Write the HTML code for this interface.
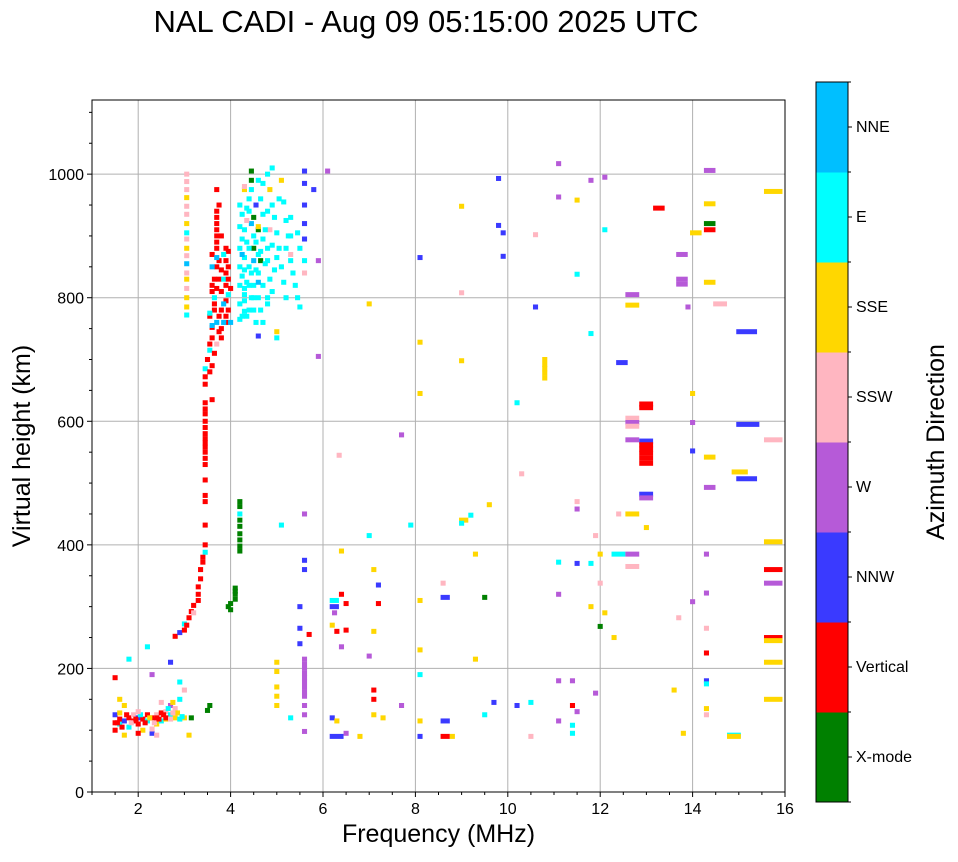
<!DOCTYPE html>
<html><head><meta charset="utf-8"><style>
body{margin:0;background:#fff;font-family:"Liberation Sans","DejaVu Sans",sans-serif}
svg text{font-family:"Liberation Sans","DejaVu Sans",sans-serif}
</style></head><body>
<svg id="c" width="958" height="857" xmlns="http://www.w3.org/2000/svg">
<rect width="958" height="857" fill="#fff"/>
<text x="426" y="32" font-size="31" text-anchor="middle">NAL CADI - Aug 09 05:15:00 2025 UTC</text>
<g id="grid"></g><g id="marks"></g><g id="axes"></g><g id="cbar"></g>
</svg>
<script>
const dirNames=["X-mode","Vertical","NNW","W","SSW","SSE","E","NNE"];
const dirColors=["#008000","#ff0000","#3a3aff","#b65ad8","#ffb6c1","#ffd700","#00ffff","#00bfff"];
const xTicks=[2,4,6,8,10,12,14,16];
const yTicks=[0,200,400,600,800,1000];
// [freq MHz, height km, direction index, optional span MHz]
const lowCluster=[[1.5,125,2],[1.5,100,1],[1.5,185,1],[1.6,110,6],[1.6,118,1],[1.7,115,2],[1.7,92,5],[1.8,120,1],[1.8,105,6],[1.9,115,1],[1.9,125,4],[2.0,110,1],[2.0,120,2],[2.1,118,1],[2.1,100,5],[2.2,115,6],[2.2,125,1],[2.3,120,1],[2.3,95,2],[2.4,125,4],[2.4,110,5],[2.5,128,1],[2.5,115,6],[2.6,130,4],[2.6,118,5],[2.7,140,3],[2.7,125,6],[2.75,145,5],[2.8,135,4],[2.8,120,5],[2.9,150,6],[3.0,120,5],[3.15,120,0],[2.6,120,1],[1.8,215,6],[2.2,235,6],[2.7,210,2],[2.9,178,6],[3.0,165,4],[2.5,145,4],[2.3,102,4],[2.0,95,1],[1.7,140,5],[1.55,112,1],[1.65,105,1],[2.15,112,1],[2.35,112,4],[2.45,118,1],[2.85,128,5],[3.1,92,5],[2.4,92,4],[2.9,118,6],[1.6,150,5],[2.3,190,3],[1.75,125,1],[1.85,112,4],[1.95,118,1],[2.05,125,6],[2.25,120,5],[2.55,125,1],[2.65,135,6],[2.75,128,4],[2.95,122,6],[1.5,112,1],[1.6,128,5],[2.0,130,4],[2.4,120,1],[2.7,118,4]];
const mainTrace=[[2.8,252,1],[2.9,258,2],[3.0,262,1],[3.0,272,6],[3.1,282,1],[3.15,292,1],[3.2,302,1],[3.3,320,1],[3.3,332,1],[3.35,345,1],[3.35,360,1],[3.4,372,1],[3.45,388,6],[3.45,400,1],[3.45,432,1],[3.45,470,1],[3.45,505,1],[3.45,530,1],[3.45,540,1],[3.45,550,1],[3.45,558,1],[3.45,565,1],[3.45,572,1],[3.45,580,1],[3.45,590,1],[3.45,600,1],[3.45,612,1],[3.45,620,1],[3.45,630,1],[3.45,660,1],[3.45,672,1],[3.45,685,6],[3.5,700,1],[3.55,715,6],[3.55,725,1],[3.6,735,1],[3.6,752,1],[3.55,770,1],[3.65,780,1],[3.65,800,6],[3.7,815,1],[3.75,830,1],[3.7,850,1],[3.75,860,1],[3.7,880,1],[3.7,900,1],[3.7,920,1],[3.7,940,1],[3.7,975,1],[3.8,750,1],[3.9,770,1],[3.9,795,1],[3.85,830,6],[3.95,850,1],[3.95,875,1],[3.6,870,1],[3.8,900,1],[3.9,760,1],[3.6,690,1],[3.7,725,4],[3.8,735,1],[3.9,840,1],[3.9,860,1],[3.6,810,1],[3.55,775,6],[3.8,780,1],[3.95,805,6],[3.95,780,1],[3.8,810,1],[3.85,790,7],[3.6,755,7],[3.65,830,1],[3.6,850,7],[3.7,760,7],[3.85,760,7],[3.6,635,1],[3.45,480,1],[3.7,890,1],[3.7,910,1],[3.7,930,1],[3.7,865,7],[3.6,820,1],[3.65,790,1],[3.75,770,1],[3.8,845,1],[3.9,880,1],[3.9,820,1],[3.95,830,1],[4.0,760,7],[4.0,815,1],[3.75,745,1],[3.65,710,1],[3.55,680,1],[3.85,870,6],[3.75,950,1],[3.3,310,1],[3.4,380,1],[3.2,290,4],[3.05,270,1]];
const pinkColumn=[[3.05,1000,4],[3.05,988,4],[3.05,975,4],[3.05,962,5],[3.05,948,4],[3.05,935,4],[3.05,920,5],[3.05,905,6],[3.05,895,4],[3.05,880,5],[3.05,868,4],[3.05,855,7],[3.05,840,4],[3.05,830,5],[3.05,815,4],[3.05,800,5],[3.05,785,5],[3.05,772,6]];
const greenMarks=[[4.2,470,0],[4.2,462,0],[4.2,450,6],[4.2,440,0],[4.2,430,0],[4.2,418,0],[4.2,408,0],[4.2,398,0],[4.2,390,0],[4.1,330,0],[4.1,320,0],[4.1,312,0],[4.0,305,0],[3.95,300,0],[4.45,1005,0],[4.45,990,0],[4.45,975,6],[4.6,910,0],[4.5,880,0],[4.65,860,0],[3.55,140,0],[3.5,132,0],[4.5,930,0],[4.0,295,0],[4.1,325,0]];
const cloud=[[4.2,950,6],[4.25,935,6],[4.2,915,6],[4.25,895,6],[4.2,880,6],[4.3,865,6],[4.2,850,6],[4.25,835,6],[4.2,820,6],[4.3,805,6],[4.2,790,6],[4.3,778,6],[4.2,765,6],[4.4,940,6],[4.45,920,7],[4.5,900,6],[4.4,880,6],[4.5,860,7],[4.45,840,6],[4.4,820,6],[4.5,800,6],[4.4,780,6],[4.55,760,6],[4.6,990,6],[4.65,960,6],[4.7,935,6],[4.6,915,5],[4.7,895,6],[4.65,875,6],[4.75,855,6],[4.6,840,6],[4.7,820,6],[4.8,800,6],[4.9,1010,6],[4.85,975,5],[4.9,950,6],[4.95,930,6],[5.0,905,6],[4.9,885,6],[5.0,865,6],[4.95,845,6],[5.1,990,5],[5.15,955,6],[5.2,925,6],[5.25,900,6],[5.2,880,6],[5.3,860,6],[5.35,840,6],[5.4,820,6],[5.45,800,6],[5.5,785,6],[5.3,930,6],[5.5,880,6],[5.45,905,6],[4.8,1000,6],[4.3,975,5],[4.35,925,4],[4.55,950,2],[5.6,1005,2],[5.6,985,2],[5.6,950,2],[5.6,920,2],[5.6,895,2],[5.0,745,5],[5.0,735,6],[4.6,738,2],[4.85,910,4],[5.3,870,4],[4.3,980,4],[5.6,840,4],[5.6,860,6],[4.3,910,6],[4.35,890,6],[4.3,845,6],[4.35,825,6],[4.3,795,6],[4.35,770,6],[4.5,820,6],[4.55,845,6],[4.6,870,6],[4.55,890,6],[4.6,800,6],[4.65,780,6],[4.7,760,6],[4.8,880,6],[4.8,860,6],[4.85,830,6],[4.9,810,6],[4.75,910,6],[4.8,940,6],[4.7,985,6],[5.05,880,6],[5.1,850,6],[5.15,825,6],[5.05,960,6],[5.2,800,6],[5.3,900,6],[4.45,800,6],[4.3,815,6],[4.25,770,6],[4.5,780,6],[4.4,850,6],[4.4,960,6],[4.35,945,6],[4.25,870,7],[4.6,825,7],[4.8,790,6]];
const lowScatter=[[5.0,210,5],[5.0,195,5],[5.0,170,5],[5.0,155,5],[5.0,140,5],[5.6,215,3],[5.6,207,3],[5.6,200,3],[5.6,192,3],[5.6,185,3],[5.6,178,3],[5.6,170,3],[5.6,162,3],[5.6,155,3],[5.6,140,3],[5.6,125,3],[5.6,98,3],[5.5,300,2],[5.5,265,2],[5.7,255,1],[5.3,120,6],[5.5,240,2],[5.6,375,2],[5.6,360,2],[6.2,300,2,0.2],[6.2,310,6,0.2],[6.25,290,3],[6.4,320,1],[6.5,305,1],[6.3,260,1],[6.5,262,1],[6.4,235,3],[6.2,270,5],[6.4,390,5],[6.2,120,2],[6.3,115,5],[6.2,90,2,0.3],[6.5,95,3],[6.8,90,5],[7.0,220,3],[7.1,165,1],[7.1,150,1],[7.1,125,5],[7.2,305,1],[7.2,335,2],[7.1,260,5],[7.1,360,5],[7.0,415,6],[7.3,120,5],[7.7,140,3],[8.1,90,2],[8.1,115,5],[8.1,190,6],[8.1,230,5],[8.1,310,5],[8.6,115,2,0.2],[8.6,90,1,0.2],[8.8,90,5],[8.6,315,2,0.2],[8.6,338,4],[9.0,440,5,0.2],[9.0,435,6],[9.3,385,5],[9.3,215,5],[9.5,125,6],[9.5,315,0],[9.7,145,2],[10.2,140,2],[10.5,90,4],[10.5,145,6],[11.1,180,3],[11.1,115,3],[11.4,108,6],[11.4,95,6],[11.4,140,1],[11.4,180,3],[11.5,130,3],[11.5,370,2],[11.1,320,3],[11.1,372,6],[11.8,300,5],[11.9,160,3],[11.8,370,6],[12.0,268,0],[12.0,338,4],[12.1,290,5],[12.3,250,5],[12.0,385,5],[12.3,385,6,0.3],[12.6,385,3,0.3],[12.6,365,4,0.3],[12.4,450,4],[12.6,450,5,0.3],[13.0,428,5],[13.6,165,5],[13.7,282,4],[13.8,95,5],[14.0,308,3],[14.3,322,3],[14.3,385,3],[14.3,225,1],[14.3,180,2],[14.3,175,6],[14.3,265,4],[14.3,135,5],[14.3,125,4],[14.8,92,6,0.3],[14.8,90,5,0.3],[15.6,150,5,0.4],[15.6,210,5,0.4],[15.6,250,1,0.4],[15.6,245,5,0.4],[15.6,338,3,0.4],[15.6,360,1,0.4],[15.6,405,5,0.4],[5.1,432,6],[5.6,450,3],[7.9,432,6],[9.6,465,5],[9.2,448,6]];
const highScatter=[[6.1,1005,3],[5.8,975,2],[5.9,860,3],[5.9,705,3],[6.35,545,4],[7.0,790,5],[7.7,578,3],[8.1,865,2],[8.1,728,5],[8.1,645,5],[9.0,948,5],[9.0,808,4],[9.0,698,5],[9.8,993,2],[9.8,917,2],[9.9,905,2],[9.9,867,2],[10.2,630,6],[10.6,902,4],[10.6,785,2],[10.8,700,5],[10.8,692,5],[10.8,685,5],[10.8,678,5],[10.8,670,5],[11.1,1017,3],[11.1,963,3],[11.5,958,5],[11.5,838,6],[11.8,990,3],[11.8,742,6],[12.1,995,3],[12.1,910,6],[12.4,695,2,0.25],[12.6,805,3,0.3],[12.6,788,5,0.3],[12.6,605,4,0.3],[12.6,598,3,0.3],[12.6,592,4,0.3],[12.6,570,3,0.3],[12.9,628,1,0.3],[12.9,622,1,0.3],[12.9,568,2,0.3],[12.9,562,1,0.3],[12.9,555,1,0.3],[12.9,548,1,0.3],[12.9,540,1,0.3],[12.9,532,1,0.3],[12.9,482,2,0.3],[12.9,476,3,0.3],[13.2,945,1,0.25],[13.7,870,3,0.25],[13.7,830,3,0.25],[13.7,822,3,0.25],[13.9,785,3],[14.0,905,5,0.25],[14.0,645,5],[14.0,598,3],[14.0,552,2],[14.3,1006,3,0.25],[14.3,952,5,0.25],[14.3,920,0,0.25],[14.3,910,1,0.25],[14.3,825,5,0.25],[14.3,542,5,0.25],[14.3,493,3,0.25],[14.5,790,4,0.3],[14.9,518,5,0.35],[15.0,745,2,0.45],[15.0,595,2,0.5],[15.0,507,2,0.45],[15.6,972,5,0.4],[15.6,570,4,0.4],[11.5,470,4],[11.5,458,3],[10.3,515,4],[11.9,415,4]];
const W=958,H=857,L=92,R=785,T=100,B=792,xMin=1,xMax=16,yMin=0,yMax=1120;
const xs=v=>L+(v-xMin)/(xMax-xMin)*(R-L);
const ys=v=>B-(v-yMin)/(yMax-yMin)*(B-T);
const NS="http://www.w3.org/2000/svg";
function mk(tag,attrs,parent){const e=document.createElementNS(NS,tag);for(const k in attrs)e.setAttribute(k,attrs[k]);parent.appendChild(e);return e;}
const grid=document.getElementById('grid'),axes=document.getElementById('axes'),marks=document.getElementById('marks'),cb=document.getElementById('cbar');
xTicks.forEach(v=>{const g=mk('line',{x1:xs(v),x2:xs(v),y1:T,y2:B,stroke:'#b0b0b0','stroke-width':1},grid);});
yTicks.forEach(v=>{const g=mk('line',{x1:L,x2:R,y1:ys(v),y2:ys(v),stroke:'#b0b0b0','stroke-width':1},grid);});
[lowCluster,mainTrace,pinkColumn,greenMarks,cloud,lowScatter,highScatter].forEach(arr=>arr.forEach(p=>{
 const span=p[3]||0.11;const x0=xs(p[0]-0.055),x1=xs(p[0]-0.055+span);
 const r=mk('rect',{x:x0,y:ys(p[1])-2.5,width:x1-x0,height:5,fill:dirColors[p[2]]},marks);
 
 
}));
const frame=mk('rect',{x:L,y:T,width:R-L,height:B-T,fill:'none',stroke:'#000','stroke-width':1},axes);

for(let v=1;v<=16.001;v+=0.5){mk('line',{x1:xs(v),x2:xs(v),y1:B,y2:B+(xTicks.includes(v)?5:3),stroke:'#000'},axes);}
for(let v=0;v<=1100;v+=50){mk('line',{x1:L,x2:L-(yTicks.includes(v)?5:3),y1:ys(v),y2:ys(v),stroke:'#000'},axes);}
xTicks.forEach(v=>{const t=mk('text',{x:xs(v),y:B+22,'font-size':16,'text-anchor':'middle'},axes);t.textContent=v;});
yTicks.forEach(v=>{const t=mk('text',{x:L-8,y:ys(v)+6,'font-size':16,'text-anchor':'end'},axes);t.textContent=v;});
let t=mk('text',{x:(L+R)/2,y:842,'font-size':25,'text-anchor':'middle'},axes);t.textContent='Frequency (MHz)';

t=mk('text',{x:0,y:0,'font-size':25,'text-anchor':'middle',transform:'translate(30,446) rotate(-90)'},axes);t.textContent='Virtual height (km)';

const cT=82,cB=802,cL=816,cR=848,seg=(cB-cT)/dirNames.length;
dirNames.forEach((n,i)=>{const y0=cB-(i+1)*seg;
 const r=mk('rect',{x:cL,y:y0,width:cR-cL,height:seg+0.5,fill:dirColors[i]},cb);
 
 mk('line',{x1:cR,x2:cR+4,y1:y0+seg/2,y2:y0+seg/2,stroke:'#000'},cb);
 mk('line',{x1:cR,x2:cR+3,y1:y0,y2:y0,stroke:'#000'},cb);
 const l=mk('text',{x:cR+8,y:y0+seg/2+5,'font-size':16},cb);l.textContent=n;
 });
mk('line',{x1:cR,x2:cR+3,y1:cB,y2:cB,stroke:'#000'},cb);
mk('rect',{x:cL,y:cT,width:cR-cL,height:cB-cT,fill:'none',stroke:'#000'},cb);
t=mk('text',{x:0,y:0,'font-size':25,'text-anchor':'middle',transform:'translate(944,442) rotate(-90)'},cb);t.textContent='Azimuth Direction';

</script>
</body></html>
